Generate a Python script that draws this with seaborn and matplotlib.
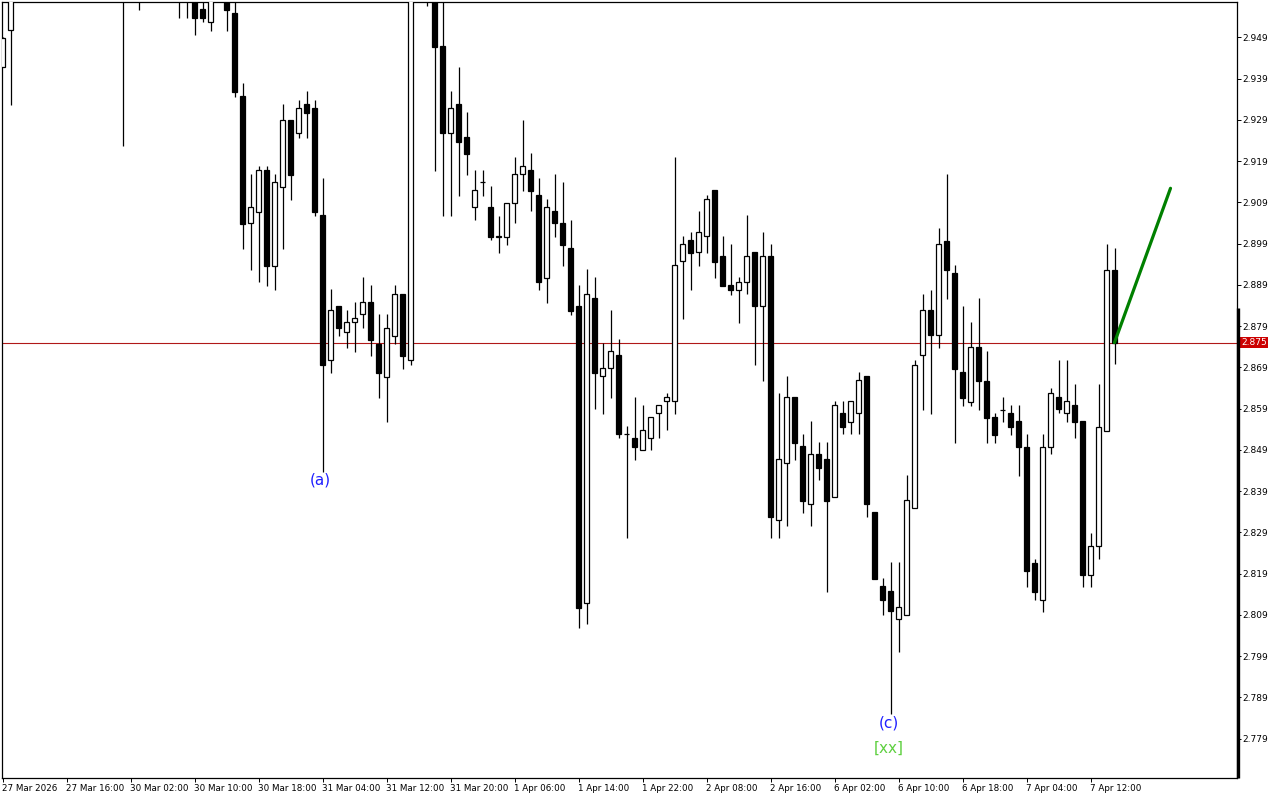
import numpy as np
import pandas as pd
import seaborn as sns
import matplotlib.pyplot as plt
import matplotlib.transforms as mtransforms

sns.set_theme(style="white")
plt.rcParams["font.family"] = ["DejaVu Sans"]

# hourly candles (bars 2-28 and 51-55 run above the visible range)
opens = [2.9418, 2.9508, 2.9610, 2.9650, 2.9680, 2.9660, 2.9700, 2.9720, 2.9690, 2.9670,
         2.9640, 2.9660, 2.9650, 2.9630, 2.9620, 2.9640, 2.9610, 2.9630, 2.9620, 2.9660,
         2.9650, 2.9640, 2.9610, 2.9630, 2.9600, 2.9559, 2.9528, 2.9600, 2.9610, 2.9548,
         2.9347, 2.9039, 2.9067, 2.9168, 2.8936, 2.9128, 2.9289, 2.9257, 2.9328, 2.9318,
         2.9059, 2.8707, 2.8838, 2.8776, 2.8799, 2.8819, 2.8848, 2.8747, 2.8667, 2.8767,
         2.8867, 2.8707, 2.9650, 2.9630, 2.9610, 2.9468, 2.9257, 2.9328, 2.9249, 2.9078,
         2.9139, 2.9078, 2.9007, 2.9007, 2.9088, 2.9158, 2.9169, 2.9107, 2.8907, 2.9069,
         2.9040, 2.8979, 2.8839, 2.8118, 2.8858, 2.8668, 2.8688, 2.8719, 2.8528, 2.8518,
         2.8489, 2.8518, 2.8579, 2.8608, 2.8608, 2.8947, 2.8998, 2.8969, 2.9008, 2.9120,
         2.8959, 2.8889, 2.8878, 2.8898, 2.8969, 2.8838, 2.8959, 2.8319, 2.8457, 2.8618,
         2.8499, 2.8358, 2.8479, 2.8467, 2.8376, 2.8579, 2.8558, 2.8579, 2.8668, 2.8339,
         2.8159, 2.8147, 2.8079, 2.8089, 2.8348, 2.8719, 2.8828, 2.8768, 2.8997, 2.8918,
         2.8678, 2.8607, 2.8740, 2.8658, 2.8569, 2.8587, 2.8579, 2.8559, 2.8498, 2.8216,
         2.8127, 2.8498, 2.8617, 2.8579, 2.8598, 2.8559, 2.8187, 2.8258, 2.8536, 2.8927]
highs = [2.9490, 2.9630, 2.9680, 2.9700, 2.9720, 2.9710, 2.9750, 2.9760, 2.9730, 2.9700,
         2.9690, 2.9700, 2.9680, 2.9660, 2.9650, 2.9670, 2.9650, 2.9660, 2.9680, 2.9700,
         2.9690, 2.9670, 2.9650, 2.9660, 2.9630, 2.9600, 2.9620, 2.9650, 2.9640, 2.9590,
         2.9379, 2.9159, 2.9178, 2.9178, 2.9159, 2.9328, 2.9289, 2.9338, 2.9360, 2.9338,
         2.9148, 2.8879, 2.8838, 2.8828, 2.8848, 2.8909, 2.8890, 2.8819, 2.8819, 2.8890,
         2.8867, 2.9680, 2.9700, 2.9660, 2.9640, 2.9600, 2.9360, 2.9418, 2.9309, 2.9169,
         2.9169, 2.9129, 2.9058, 2.9088, 2.9199, 2.9290, 2.9209, 2.9148, 2.9098, 2.9159,
         2.9139, 2.9048, 2.8890, 2.8928, 2.8909, 2.8748, 2.8829, 2.8758, 2.8547, 2.8618,
         2.8599, 2.8569, 2.8598, 2.8628, 2.9200, 2.9008, 2.9018, 2.9069, 2.9108, 2.9120,
         2.9008, 2.8988, 2.8910, 2.9059, 2.8969, 2.9018, 2.8989, 2.8628, 2.8669, 2.8618,
         2.8528, 2.8560, 2.8508, 2.8508, 2.8608, 2.8608, 2.8608, 2.8678, 2.8668, 2.8339,
         2.8179, 2.8217, 2.8217, 2.8428, 2.8708, 2.8867, 2.8878, 2.9028, 2.9158, 2.8937,
         2.8838, 2.8799, 2.8857, 2.8730, 2.8579, 2.8617, 2.8598, 2.8598, 2.8528, 2.8226,
         2.8528, 2.8639, 2.8708, 2.8708, 2.8649, 2.8559, 2.8288, 2.8649, 2.8988, 2.8979]
lows = [2.9418, 2.9326, 2.9600, 2.9620, 2.9640, 2.9630, 2.9670, 2.9680, 2.9650, 2.9620,
        2.9610, 2.9630, 2.9610, 2.9600, 2.9590, 2.9227, 2.9590, 2.9556, 2.9600, 2.9630,
        2.9610, 2.9600, 2.9538, 2.9538, 2.9496, 2.9528, 2.9506, 2.9590, 2.9506, 2.9346,
        2.8978, 2.8927, 2.8898, 2.8888, 2.8878, 2.8978, 2.9096, 2.9247, 2.9247, 2.9058,
        2.8437, 2.8677, 2.8767, 2.8738, 2.8728, 2.8786, 2.8718, 2.8616, 2.8558, 2.8747,
        2.8687, 2.8696, 2.9600, 2.9567, 2.9167, 2.9058, 2.9058, 2.9106, 2.9157, 2.9048,
        2.9106, 2.8998, 2.8968, 2.8987, 2.9039, 2.9118, 2.9069, 2.8878, 2.8847, 2.9007,
        2.8936, 2.8818, 2.8057, 2.8067, 2.8589, 2.8578, 2.8616, 2.8518, 2.8277, 2.8466,
        2.8489, 2.8489, 2.8518, 2.8537, 2.8578, 2.8808, 2.8878, 2.8936, 2.8968, 2.8907,
        2.8888, 2.8866, 2.8798, 2.8867, 2.8696, 2.8658, 2.8277, 2.8277, 2.8306, 2.8466,
        2.8338, 2.8306, 2.8418, 2.8146, 2.8376, 2.8528, 2.8528, 2.8528, 2.8328, 2.8178,
        2.8089, 2.7849, 2.7999, 2.8089, 2.8348, 2.8587, 2.8578, 2.8738, 2.8855, 2.8507,
        2.8597, 2.8597, 2.8587, 2.8507, 2.8507, 2.8557, 2.8527, 2.8427, 2.8158, 2.8127,
        2.8098, 2.8479, 2.8579, 2.8558, 2.8518, 2.8158, 2.8158, 2.8226, 2.8536, 2.8697]
closes = [2.9488, 2.9610, 2.9650, 2.9680, 2.9660, 2.9700, 2.9720, 2.9690, 2.9670, 2.9640,
          2.9660, 2.9650, 2.9630, 2.9620, 2.9640, 2.9610, 2.9630, 2.9620, 2.9660, 2.9650,
          2.9640, 2.9610, 2.9630, 2.9600, 2.9538, 2.9538, 2.9600, 2.9620, 2.9557, 2.9358,
          2.9038, 2.9078, 2.9168, 2.8936, 2.9139, 2.9289, 2.9157, 2.9318, 2.9307, 2.9067,
          2.8696, 2.8828, 2.8786, 2.8799, 2.8809, 2.8848, 2.8757, 2.8677, 2.8786, 2.8867,
          2.8718, 2.9650, 2.9630, 2.9610, 2.9467, 2.9257, 2.9318, 2.9237, 2.9208, 2.9119,
          2.9139, 2.9007, 2.9007, 2.9088, 2.9159, 2.9177, 2.9118, 2.8898, 2.9078, 2.9039,
          2.8987, 2.8827, 2.8107, 2.8867, 2.8677, 2.8688, 2.8729, 2.8528, 2.8528, 2.8498,
          2.8537, 2.8569, 2.8598, 2.8617, 2.8937, 2.8988, 2.8968, 2.9017, 2.9097, 2.8946,
          2.8888, 2.8878, 2.8898, 2.8959, 2.8838, 2.8959, 2.8328, 2.8467, 2.8618, 2.8507,
          2.8367, 2.8479, 2.8447, 2.8367, 2.8598, 2.8546, 2.8608, 2.8659, 2.8358, 2.8178,
          2.8127, 2.8099, 2.8108, 2.8368, 2.8696, 2.8828, 2.8768, 2.8988, 2.8927, 2.8687,
          2.8616, 2.8740, 2.8658, 2.8568, 2.8527, 2.8587, 2.8546, 2.8498, 2.8197, 2.8146,
          2.8498, 2.8627, 2.8588, 2.8608, 2.8558, 2.8187, 2.8258, 2.8546, 2.8927, 2.8750]

time_labels = ["27 Mar 2026", "27 Mar 16:00", "30 Mar 02:00", "30 Mar 10:00", "30 Mar 18:00",
               "31 Mar 04:00", "31 Mar 12:00", "31 Mar 20:00", "1 Apr 06:00", "1 Apr 14:00",
               "1 Apr 22:00", "2 Apr 08:00", "2 Apr 16:00", "6 Apr 02:00", "6 Apr 10:00",
               "6 Apr 18:00", "7 Apr 04:00", "7 Apr 12:00"]
label_every = 8

price_ticks = [2.779, 2.789, 2.799, 2.809, 2.819, 2.829, 2.839, 2.849, 2.859,
               2.869, 2.879, 2.889, 2.899, 2.909, 2.919, 2.929, 2.939, 2.949]
last_price = 2.875

# projected wave leg
wave_bar = [139, 146]
wave_price = [2.8750, 2.9124]

wave_marks = [("(a)", 39.7, 2.8417, "#1f1fff"),
              ("(c)", 110.8, 2.7828, "#1f1fff"),
              ("[xx]", 110.8, 2.7767, "#5ed040")]

df = pd.DataFrame({"open": opens, "high": highs, "low": lows, "close": closes})
df["bar"] = np.arange(len(df))
df["up"] = df["close"] >= df["open"]
df["body_lo"] = df[["open", "close"]].min(axis=1)
df["body_h"] = (df["close"] - df["open"]).abs().clip(lower=0.00003)

fig = plt.figure(figsize=(12.8, 8), dpi=100)
ax = fig.add_axes([2 / 1280, 22 / 800, 1235 / 1280, 776 / 800])
ax.set_facecolor("white")

ax.axhline(last_price, color="#b01818", linewidth=0.8, zorder=1)
ax.vlines(df["bar"], df["low"], df["high"], color="black", linewidth=0.9, zorder=2)
ax.bar(df["bar"], df["body_h"], bottom=df["body_lo"], width=0.56,
       color=np.where(df["up"], "white", "black"), edgecolor="black",
       linewidth=0.9, zorder=3)

sns.lineplot(x=wave_bar, y=wave_price, color="#008000", linewidth=2.3, ax=ax, zorder=4)

for text, xb, yp, col in wave_marks:
    ax.text(xb, yp, text, color=col, fontsize=11, ha="center", va="center", zorder=5)

ax.set_xlim(-0.0625, 154.3125)
ax.set_ylim(2.76945, 2.95756)

ax.set_xticks(list(range(0, label_every * len(time_labels), label_every)))
ax.set_xticklabels(time_labels)
plt.setp(ax.get_xticklabels(), ha="left")
ax.tick_params(axis="x", direction="out", length=3, width=0.7, pad=1.5,
               labelsize=6.3, colors="black", bottom=True)

ax.yaxis.tick_right()
ax.set_yticks(price_ticks)
ax.set_yticklabels([f"{p:.3f}" for p in price_ticks])
ax.tick_params(axis="y", direction="out", length=3, width=0.7, pad=1,
               labelsize=6.5, colors="black", right=True)

for side in ["top", "bottom", "left", "right"]:
    ax.spines[side].set_visible(True)
    ax.spines[side].set_color("black")
    ax.spines[side].set_linewidth(0.9)

# current price tag on the axis
trans = mtransforms.blended_transform_factory(ax.transAxes, ax.transData)
ax.text(1.0 + 4 / 1235, last_price, f"{last_price:.3f}", transform=trans, color="white",
        fontsize=6.5, ha="left", va="center", clip_on=False, zorder=6,
        bbox=dict(boxstyle="square,pad=0.15", facecolor="#cc0000", edgecolor="none"))

# thick right border segment
ax.plot([1.0008, 1.0008], [0, 0.6057], transform=ax.transAxes, color="black",
        linewidth=2.4, clip_on=False, solid_capstyle="butt", zorder=6)

fig.savefig("out.png", dpi=100)
